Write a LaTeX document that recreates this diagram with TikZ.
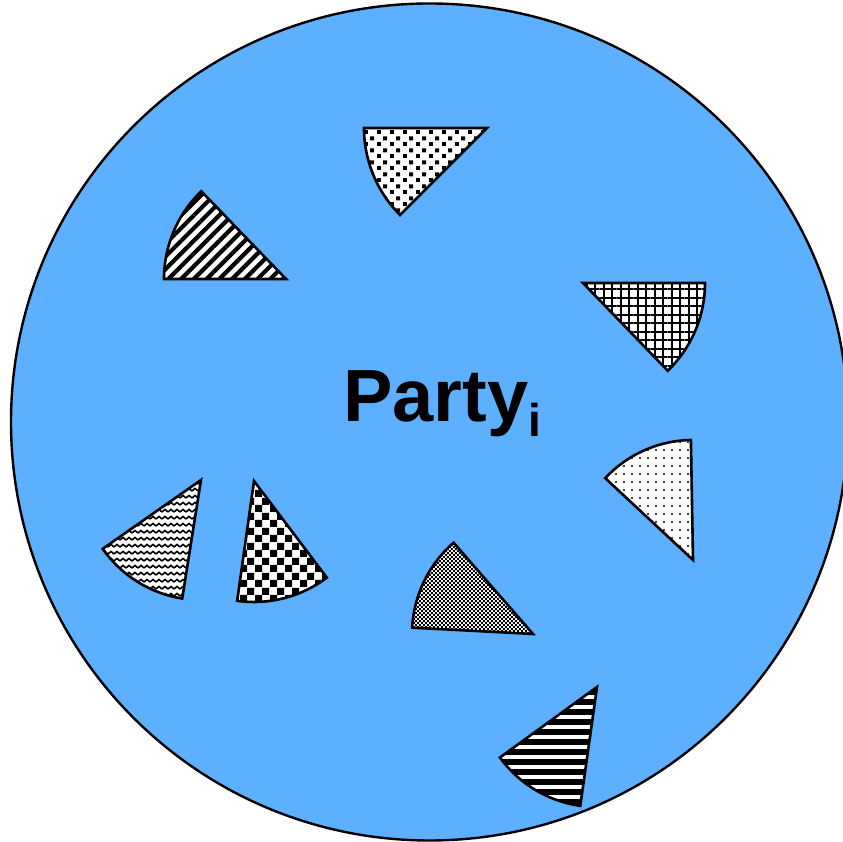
\documentclass[tikz,border=0pt]{standalone}
\usepackage{fontspec}
\setmainfont{Liberation Sans}
\usetikzlibrary{patterns,patterns.meta}

\definecolor{partyblue}{RGB}{92,176,255}

\tikzdeclarepattern{
  name=brickdots,
  bounding box={(0pt,0pt) and (13pt,12pt)},
  tile size={(13pt,12pt)},
  code={
    \fill (0pt,0pt) rectangle (4.2pt,4.2pt);
    \fill (6.5pt,6pt) rectangle (10.7pt,10.2pt);
  }
}
\tikzdeclarepattern{
  name=bigchecker,
  bounding box={(0pt,0pt) and (15pt,15pt)},
  tile size={(15pt,15pt)},
  code={
    \fill (0pt,0pt) rectangle (7.5pt,7.5pt);
    \fill (7.5pt,7.5pt) rectangle (15pt,15pt);
  }
}
\tikzdeclarepattern{
  name=finechecker,
  bounding box={(0pt,0pt) and (4.4pt,4.4pt)},
  tile size={(4.4pt,4.4pt)},
  code={
    \fill (0pt,0pt) rectangle (2.2pt,2.2pt);
    \fill (2.2pt,2.2pt) rectangle (4.4pt,4.4pt);
  }
}
\tikzdeclarepattern{
  name=zigzag,
  bounding box={(-1pt,-1pt) and (7pt,8pt)},
  tile size={(6pt,7pt)},
  code={
    \draw[line width=1.6pt] (0pt,1pt) -- (3pt,3.5pt) -- (6pt,1pt);
  }
}

\begin{document}
\begin{tikzpicture}[x=1pt,y=1pt,
    slice/.style={draw,line width=2.6pt,preaction={fill=white}}]
        \useasboundingbox (0,0) rectangle (843,842);
        % the party
        \draw[line width=2.4pt,fill=partyblue] (429.5,420) circle[radius=418.5];
        \node[font=\fontsize{74}{80}\selectfont\bfseries,anchor=base west,inner sep=0pt] (party) at (343,420) {Party\raisebox{-15pt}{\fontsize{46}{50}\selectfont i}};
        % the shares
        \draw[slice,pattern=brickdots] (487,714) -- ++(180:123) arc[start angle=180,end angle=225,radius=123] -- cycle;
        \draw[slice,pattern={Lines[angle=45,distance=9pt,line width=4.2pt]}] (286,563) -- ++(134:122) arc[start angle=134,end angle=180,radius=122] -- cycle;
        \draw[slice,pattern={Hatch[angle=0,distance=8.5pt,line width=2pt]}] (583,559) -- ++(-46:122) arc[start angle=-46,end angle=0,radius=122] -- cycle;
        \draw[slice,pattern={Dots[radius=1.2pt,distance=8pt]}] (693,282) -- ++(91:120) arc[start angle=91,end angle=137,radius=120] -- cycle;
        \draw[slice,pattern=zigzag] (201,362) -- ++(215:120) arc[start angle=215,end angle=261,radius=120] -- cycle;
        \draw[slice,pattern=bigchecker] (254,361) -- ++(262:121) arc[start angle=262,end angle=307,radius=121] -- cycle;
        \draw[slice,pattern=finechecker] (533,208) -- ++(131:121) arc[start angle=131,end angle=177,radius=121] -- cycle;
        \draw[slice,pattern={Lines[angle=0,distance=10pt,line width=6pt]}] (597,155) -- ++(216:120) arc[start angle=216,end angle=262,radius=120] -- cycle;
    \end{tikzpicture}
\end{document}
